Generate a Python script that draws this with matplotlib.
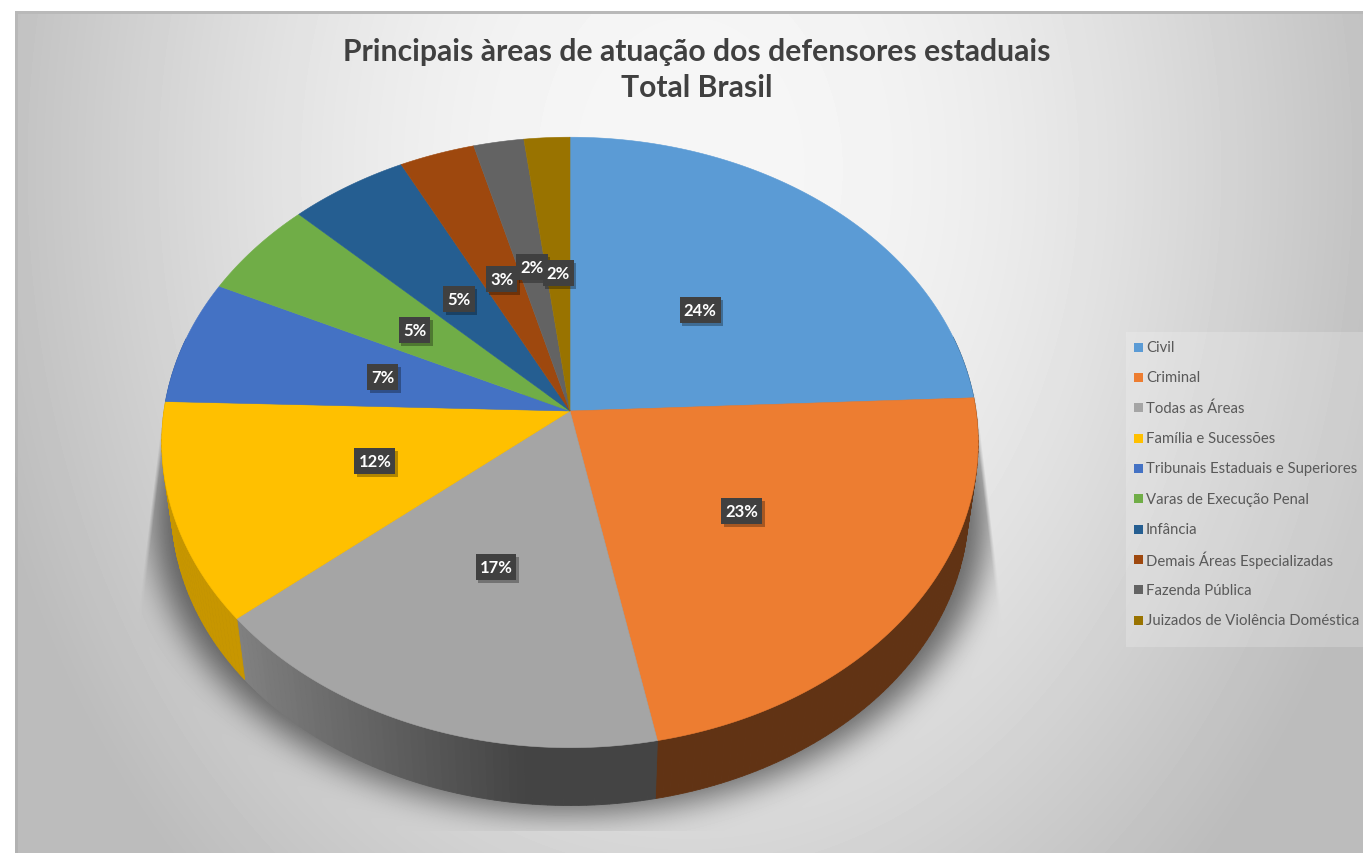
import numpy as np
import matplotlib
matplotlib.use("Agg")
import matplotlib.pyplot as plt
from matplotlib.patches import Rectangle
from matplotlib.path import Path

plt.rcParams["font.family"] = ["Lato", "DejaVu Sans"]

categories = ["Civil", "Criminal", "Todas as Áreas", "Família e Sucessões",
              "Tribunais Estaduais e Superiores", "Varas de Execução Penal",
              "Infância", "Demais Áreas Especializadas", "Fazenda Pública",
              "Juizados de Violência Doméstica"]
values = [24.3, 22.6, 17.0, 11.6, 6.6, 5.2, 5.2, 3.3, 2.2, 2.0]
colors = ["#5B9BD5", "#ED7D31", "#A5A5A5", "#FFC000", "#4472C4",
          "#70AD47", "#255E91", "#9E480E", "#636363", "#997300"]
label_radius = [0.48, 0.52, 0.52, 0.5, 0.48, 0.48, 0.48, 0.49, 0.51, 0.48]

W, H = 1363, 854
cx, cy = 570, 412
A, B, K = 406, 302, 0.103
DEPTH_S, DEPTH_Y = 0.976, 3158


def project(theta, r=1.0):
    # theta clockwise from the top of the pie, tilted with perspective
    u, v = r * np.sin(theta), r * np.cos(theta)
    d = 1 + K * v
    return cx + A * u / d, cy - B * v / d


def lower(x, y):
    return cx + (x - cx) * DEPTH_S, DEPTH_Y + (y - DEPTH_Y) * DEPTH_S


def shade(color, f):
    return tuple(c * f for c in matplotlib.colors.to_rgb(color))


def blur(a, size, passes=3):
    for axis in (0, 1):
        for _ in range(passes):
            c = np.cumsum(np.insert(a, 0, 0, axis=axis), axis=axis)
            n = a.shape[axis]
            lo = np.clip(np.arange(n) - size, 0, n)
            hi = np.clip(np.arange(n) + size + 1, 0, n)
            a = (np.take(c, hi, axis=axis) - np.take(c, lo, axis=axis)) / (2 * size + 1)
    return a


fig = plt.figure(figsize=(W / 100, H / 100), dpi=100)
ax = fig.add_axes([0, 0, 1, 1])
ax.set_xlim(0, W)
ax.set_ylim(H, 0)
ax.axis("off")

# background
xx, yy = np.meshgrid(np.arange(W) + 0.5, np.arange(H) + 0.5)
t = np.sqrt(((xx - 690) / 680) ** 2 + ((yy - 170) / 900) ** 2)
s = t ** 2.5
bg = np.clip(246 - 83 * s / (1 + 0.6 * s), 188, 246)
bg[:, :18] -= 10
bg[12:15, :] = np.minimum(bg[12:15, :], 185)
bg[:12, :] = 255
bg[:, :15] = 255

# shadow under the pie
angles = np.linspace(0, 2 * np.pi, 721)
ox, oy = lower(*project(angles))
ox = cx + (ox - cx) * 1.05
mask = Path(np.column_stack([ox, oy])).contains_points(
    np.column_stack([xx.ravel(), yy.ravel() - 8])).reshape(H, W).astype(float)
shadow = blur(mask, 15) * 0.75
left = 165 - (yy - 395) * 30 / 245
right = 976 + (yy - 395) * 29 / 245
shadow *= np.clip((xx - left) / 4, 0, 1) * np.clip((right - xx) / 4, 0, 1)
shadow[yy < 395] = 0
shadow[yy > 832] = 0
bg = bg * (1 - shadow) + 60 * shadow
ax.imshow(bg, cmap="gray", vmin=0, vmax=255, extent=(0, W, H, 0), aspect="auto",
          interpolation="nearest", zorder=0)

# legend panel
ax.add_patch(Rectangle((1126, 333), W - 1126, 315, fc="white", alpha=0.2, lw=0, zorder=1))

fractions = np.array(values) / sum(values)
edges = np.concatenate([[0], np.cumsum(fractions)]) * 2 * np.pi

# side wall
for i, color in enumerate(colors):
    steps = np.linspace(edges[i], edges[i + 1], max(int(np.degrees(edges[i + 1] - edges[i])), 2) + 1)
    for a0, a1 in zip(steps[:-1], steps[1:]):
        if np.cos((a0 + a1) / 2) > 0.25:
            continue
        f = 0.41 + 0.37 * np.clip((-np.sin((a0 + a1) / 2) - 0.1) / 0.67, 0, 1)
        x0, y0 = project(a0)
        x1, y1 = project(a1)
        x2, y2 = lower(x1, y1)
        x3, y3 = lower(x0, y0)
        c = shade(color, f)
        ax.fill([x0, x1, x2, x3], [y0, y1, y2, y3], color=c, lw=0.6, zorder=2)

# top of the pie
for i, color in enumerate(colors):
    th = np.linspace(edges[i], edges[i + 1], 120)
    px, py = project(th)
    ax.fill(np.r_[cx, px], np.r_[cy, py], color=color, lw=0.4, zorder=3)

# value labels, boxes are sized from the text
renderer = fig.canvas.get_renderer()
for i, val in enumerate(values):
    lx, ly = project((edges[i] + edges[i + 1]) / 2, label_radius[i])
    z = 4 + i * 0.1
    txt = ax.text(lx, ly, "%.0f%%" % val, color="white", ha="center", va="center",
                  fontsize=12, fontweight="bold", zorder=z + 0.06)
    bw = txt.get_window_extent(renderer).width + 8
    ax.add_patch(Rectangle((lx - bw / 2 + 2.5, ly - 13 + 3), bw, 26,
                           fc="black", alpha=0.3, lw=0, zorder=z))
    ax.add_patch(Rectangle((lx - bw / 2, ly - 13), bw, 26, fc="#404040", lw=0, zorder=z + 0.03))

# legend
for i, (name, color) in enumerate(zip(categories, colors)):
    ly = 348 + i * 30.35
    ax.add_patch(Rectangle((1134, ly - 4.5), 9, 9, fc=color, lw=0, zorder=4))
    ax.text(1146, ly, name, color="#595959", fontsize=10.7, va="center", ha="left", zorder=4)

ax.text(696.5, 52, "Principais àreas de atuação dos defensores estaduais", color="#404040",
        fontsize=21.7, fontweight="bold", ha="center", va="center", zorder=6)
ax.text(696.5, 88, "Total Brasil", color="#404040",
        fontsize=21.7, fontweight="bold", ha="center", va="center", zorder=6)

fig.savefig("out.png", dpi=100)
